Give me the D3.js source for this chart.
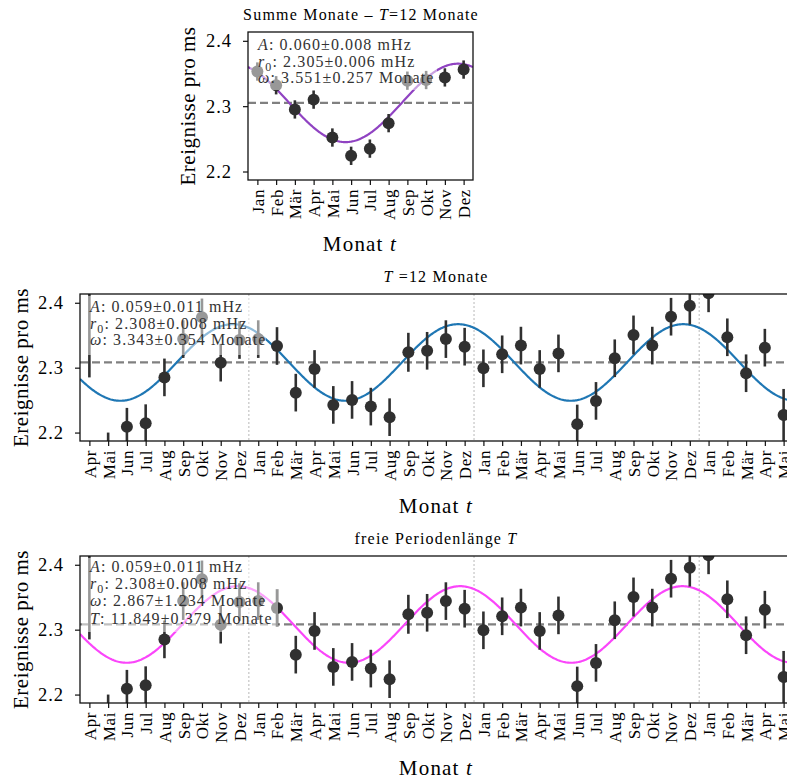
<!DOCTYPE html>
<html>
<head>
<meta charset="utf-8">
<script src="https://cdn.jsdelivr.net/npm/d3@7"></script>
<style>
body { margin: 0; background: #fff; }
text { font-family: "Liberation Serif", "Times New Roman", serif; }
</style>
</head>
<body>
<script>
// --- data ---
var monthsSum = ["Jan", "Feb", "Mär", "Apr", "Mai", "Jun", "Jul", "Aug", "Sep", "Okt", "Nov", "Dez"];
var sumValues = [2.353, 2.332, 2.295, 2.310, 2.252, 2.224, 2.235, 2.274, 2.339, 2.340, 2.344, 2.356];
var sumErrors = [0.014, 0.014, 0.014, 0.014, 0.014, 0.014, 0.014, 0.014, 0.014, 0.014, 0.014, 0.014];

var monthsAll = ["Apr", "Mai", "Jun", "Jul", "Aug", "Sep", "Okt", "Nov", "Dez",
    "Jan", "Feb", "Mär", "Apr", "Mai", "Jun", "Jul", "Aug", "Sep", "Okt", "Nov", "Dez",
    "Jan", "Feb", "Mär", "Apr", "Mai", "Jun", "Jul", "Aug", "Sep", "Okt", "Nov", "Dez",
    "Jan", "Feb", "Mär", "Apr", "Mai"];
var allValues = [2.450, 2.171, 2.209, 2.2145, 2.285, 2.344, 2.3775, 2.3077, 2.3426,
    2.344, 2.3334, 2.2615, 2.298, 2.2426, 2.2503, 2.240, 2.2237, 2.3237, 2.326, 2.344, 2.3323,
    2.299, 2.3206, 2.334, 2.298, 2.322, 2.213, 2.2488, 2.3145, 2.3503, 2.334, 2.3785, 2.3954,
    2.4145, 2.3468, 2.2914, 2.3308, 2.2272];
var allErrors = [0.165, 0.029, 0.029, 0.029, 0.029, 0.029, 0.029, 0.029, 0.029,
    0.029, 0.029, 0.029, 0.029, 0.029, 0.029, 0.029, 0.029, 0.030, 0.029, 0.029, 0.029,
    0.029, 0.029, 0.029, 0.029, 0.029, 0.030, 0.029, 0.029, 0.030, 0.029, 0.029, 0.029,
    0.029, 0.029, 0.029, 0.029, 0.040];
var yearBreaks = [8.5, 20.5, 32.5];
var yTicks = [2.2, 2.3, 2.4];
var yDomain = [2.187, 2.4135];

// fit results (cosine model)
var fitSum = { A: 0.060, r0: 2.305, T: 12, tMax: 10.7 };
var fitFixed = { A: 0.059, r0: 2.308, T: 12, tMax: 19.65 };
var fitFree = { A: 0.059, r0: 2.308, T: 11.849, tMax: 7.91 };

var textSum = [["A", "", ": 0.060±0.008 mHz"], ["r", "0", ": 2.305±0.006 mHz"], ["ω", "", ": 3.551±0.257 Monate"]];
var textFixed = [["A", "", ": 0.059±0.011 mHz"], ["r", "0", ": 2.308±0.008 mHz"], ["ω", "", ": 3.343±0.354 Monate"]];
var textFree = [["A", "", ": 0.059±0.011 mHz"], ["r", "0", ": 2.308±0.008 mHz"], ["ω", "", ": 2.867±1.234 Monate"], ["T", "", ": 11.849±0.379 Monate"]];

var svg = d3.select("body").append("svg")
    .attr("width", 787)
    .attr("height", 778);

var ink = "#303030";

function drawPanel(p) {
    var x = d3.scaleLinear().domain([-0.5, p.months.length - 0.5]).range([p.left, p.right]);
    var y = d3.scaleLinear().domain(yDomain).range([p.bottom, p.top]);
    var g = svg.append("g");

    var clipId = "clip" + p.id;
    svg.append("clipPath").attr("id", clipId)
        .append("rect")
        .attr("x", p.left).attr("y", p.top)
        .attr("width", p.right - p.left).attr("height", p.bottom - p.top);
    var plot = g.append("g").attr("clip-path", "url(#" + clipId + ")");

    // year separators
    plot.selectAll("line.year")
        .data(p.breaks)
        .enter().append("line")
        .attr("x1", function(d) { return x(d); })
        .attr("x2", function(d) { return x(d); })
        .attr("y1", p.top).attr("y2", p.bottom)
        .attr("stroke", "#b8b8b8")
        .attr("stroke-width", 1)
        .attr("stroke-dasharray", "2,2");

    // mean line
    plot.append("line")
        .attr("x1", p.left).attr("x2", p.right)
        .attr("y1", y(p.fit.r0)).attr("y2", y(p.fit.r0))
        .attr("stroke", "#808080")
        .attr("stroke-width", 2.2)
        .attr("stroke-dasharray", "8,4");

    // fit curve
    var ts = d3.range(-0.5, p.months.length - 0.5 + 0.001, 0.05);
    var line = d3.line()
        .x(function(t) { return x(t); })
        .y(function(t) { return y(p.fit.r0 + p.fit.A * Math.cos(2 * Math.PI * (t - p.fit.tMax) / p.fit.T)); });
    plot.append("path")
        .datum(ts)
        .attr("d", line)
        .attr("fill", "none")
        .attr("stroke", p.color)
        .attr("stroke-width", 2.2);

    // error bars + points
    plot.selectAll("line.err")
        .data(p.values)
        .enter().append("line")
        .attr("x1", function(d, i) { return x(i); })
        .attr("x2", function(d, i) { return x(i); })
        .attr("y1", function(d, i) { return y(d - p.errors[i]); })
        .attr("y2", function(d, i) { return y(d + p.errors[i]); })
        .attr("stroke", ink)
        .attr("stroke-width", 2.6);
    plot.selectAll("circle")
        .data(p.values)
        .enter().append("circle")
        .attr("cx", function(d, i) { return x(i); })
        .attr("cy", function(d) { return y(d); })
        .attr("r", 6)
        .attr("fill", ink);

    // text box
    g.append("rect")
        .attr("x", p.box[0]).attr("y", p.box[1])
        .attr("width", p.box[2]).attr("height", p.box[3])
        .attr("fill", "#fff")
        .attr("fill-opacity", 0.5);
    p.lines.forEach(function(l, i) {
        var t = g.append("text")
            .attr("x", p.textX)
            .attr("y", p.textY + i * p.lineStep)
            .attr("font-size", 16)
            .attr("letter-spacing", 1.1)
            .attr("fill", "#333");
        t.append("tspan").attr("font-style", "italic").text(l[0]);
        if (l[1]) {
            t.append("tspan").attr("font-size", 12).attr("dy", 4).text(l[1]);
            t.append("tspan").attr("dy", -4).text(l[2]);
        } else {
            t.append("tspan").text(l[2]);
        }
    });

    // frame
    g.append("rect")
        .attr("x", p.left).attr("y", p.top)
        .attr("width", p.right - p.left).attr("height", p.bottom - p.top)
        .attr("fill", "none")
        .attr("stroke", "#111")
        .attr("stroke-width", 1.3);

    // y axis
    var yAxis = g.append("g").attr("transform", "translate(" + p.left + ",0)")
        .call(d3.axisLeft(y).tickValues(yTicks).tickFormat(d3.format(".1f")).tickSize(5).tickPadding(11));
    yAxis.select(".domain").remove();
    yAxis.selectAll("line").attr("stroke", "#111").attr("stroke-width", 1.2);
    yAxis.selectAll("text").attr("font-size", 18.5).attr("fill", "#000")
        .attr("letter-spacing", 1)
        .attr("font-family", "Liberation Serif");

    // x axis
    var xAxis = g.append("g").attr("transform", "translate(0," + p.bottom + ")")
        .call(d3.axisBottom(x).tickValues(d3.range(p.months.length))
            .tickFormat(function(i) { return p.months[i]; }).tickSize(5));
    xAxis.select(".domain").remove();
    xAxis.selectAll("line").attr("stroke", "#111").attr("stroke-width", 1.2);
    xAxis.selectAll("text")
        .attr("font-size", 17).attr("fill", "#000")
        .attr("letter-spacing", 0.6)
        .attr("font-family", "Liberation Serif")
        .attr("text-anchor", "end")
        .attr("transform", "rotate(-90)")
        .attr("x", -9).attr("y", 0).attr("dy", "0.35em");

    // labels
    svg.append("text")
        .attr("transform", "translate(" + p.yLabelX + "," + ((p.top + p.bottom) / 2) + ") rotate(-90)")
        .attr("text-anchor", "middle")
        .attr("font-size", 21)
        .attr("letter-spacing", 0.5)
        .text("Ereignisse pro ms");
    var xl = svg.append("text")
        .attr("x", p.xLabelCx).attr("y", p.xLabelY)
        .attr("text-anchor", "middle")
        .attr("font-size", 21)
        .attr("letter-spacing", 1.2);
    xl.append("tspan").text("Monat ");
    xl.append("tspan").attr("font-style", "italic").text("t");

    var tt = svg.append("text")
        .attr("x", p.titleCx).attr("y", p.titleY)
        .attr("text-anchor", "middle")
        .attr("font-size", 16)
        .attr("letter-spacing", 1.2);
    p.title.forEach(function(s) {
        tt.append("tspan").attr("font-style", s[1] ? "italic" : "normal").text(s[0]);
    });
}

drawPanel({
    id: "a", left: 248, right: 473, top: 32, bottom: 180,
    months: monthsSum, values: sumValues, errors: sumErrors, breaks: [],
    fit: fitSum, color: "#9043c2",
    box: [250, 34, 187, 56], lines: textSum, textX: 258, textY: 50, lineStep: 16.7,
    yLabelX: 195, xLabelCx: 360, xLabelY: 251,
    titleCx: 361, titleY: 20,
    title: [["Summe Monate – ", false], ["T", true], ["=12 Monate", false]]
});

drawPanel({
    id: "b", left: 80, right: 793, top: 294, bottom: 441,
    months: monthsAll, values: allValues, errors: allErrors, breaks: yearBreaks,
    fit: fitFixed, color: "#1f77b4",
    box: [82, 296, 184, 59], lines: textFixed, textX: 90, textY: 312, lineStep: 16.7,
    yLabelX: 28, xLabelCx: 436, xLabelY: 513,
    titleCx: 436, titleY: 282,
    title: [["T", true], [" =12 Monate", false]]
});

drawPanel({
    id: "c", left: 80, right: 793, top: 556, bottom: 703,
    months: monthsAll, values: allValues, errors: allErrors, breaks: yearBreaks,
    fit: fitFree, color: "#fa46fa",
    box: [82, 558, 196, 74], lines: textFree, textX: 90, textY: 572, lineStep: 17.2,
    yLabelX: 28, xLabelCx: 436, xLabelY: 775,
    titleCx: 436, titleY: 544,
    title: [["freie Periodenlänge ", false], ["T", true]]
});
</script>
</body>
</html>
